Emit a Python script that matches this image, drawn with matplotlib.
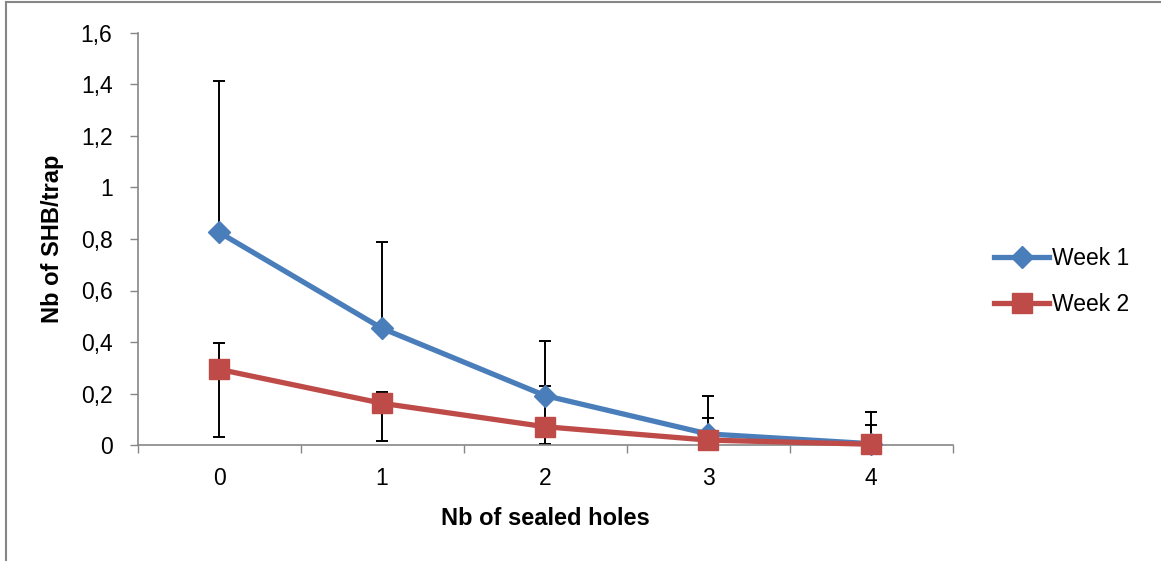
import matplotlib
matplotlib.use("Agg")
import matplotlib.pyplot as plt
from matplotlib.lines import Line2D
from matplotlib.ticker import FuncFormatter, MultipleLocator, FixedLocator

plt.rcParams['font.family'] = ['Liberation Sans', 'DejaVu Sans']

categories = [0, 1, 2, 3, 4]
week1 = [0.826, 0.453, 0.192, 0.043, 0.005]
week2 = [0.294, 0.162, 0.071, 0.019, 0.003]
week1_err_up = [0.588, 0.337, 0.212, 0.149, 0.122]
week2_err_up = [0.102, 0.045, 0.159, 0.087, 0.075]
week2_err_dn = [0.262, 0.145, 0.067, 0.019, 0.003]

fig = plt.figure(figsize=(11.61, 5.61), dpi=100)
ax = fig.add_axes([137.5/1161, 1-445/561, (952.5-137.5)/1161, (445-33)/561])

gray = '#868686'
c1 = '#4A7EBB'
c2 = '#BE4B48'

ax.errorbar(categories, week1, yerr=[[0]*5, week1_err_up], fmt='none',
            ecolor='black', elinewidth=1.4, capsize=4.5, capthick=1.4, zorder=2)
ax.errorbar(categories, week2, yerr=[week2_err_dn, week2_err_up], fmt='none',
            ecolor='black', elinewidth=1.4, capsize=4.5, capthick=1.4, zorder=2)

ax.plot(categories, week1, color=c1, lw=3.8, marker='D', markersize=11,
        markerfacecolor=c1, markeredgecolor=c1, zorder=3, label='Week 1', clip_on=False)
ax.plot(categories, week2, color=c2, lw=3.8, marker='s', markersize=14,
        markerfacecolor=c2, markeredgecolor=c2, zorder=4, label='Week 2', clip_on=False)

ax.set_xlim(-0.5, 4.5)
ax.set_ylim(0, 1.6)
ax.yaxis.set_major_locator(MultipleLocator(0.2))
ax.yaxis.set_major_formatter(FuncFormatter(lambda v, p: ('%g' % round(v, 1)).replace('.', ',')))
ax.set_xticks(categories)
ax.set_xticklabels([str(c) for c in categories])
ax.xaxis.set_minor_locator(FixedLocator([-0.5, 0.5, 1.5, 2.5, 3.5, 4.5]))
ax.tick_params(axis='x', which='major', length=0, labelsize=16.5, pad=16)
ax.tick_params(axis='x', which='minor', length=6, color=gray, width=1, direction='out')
ax.tick_params(axis='y', which='major', length=6, color=gray, width=1, labelsize=16.5, pad=12)

for s in ['top', 'right']:
    ax.spines[s].set_visible(False)
for s in ['left', 'bottom']:
    ax.spines[s].set_color(gray)
    ax.spines[s].set_linewidth(1.2)

ax.set_xlabel('Nb of sealed holes', fontsize=17, fontweight='bold', labelpad=12)
ax.set_ylabel('Nb of SHB/trap', fontsize=17, fontweight='bold', labelpad=12)

leg = ax.legend(loc='center left', bbox_to_anchor=(1.04, 0.396), frameon=False,
                fontsize=16.5, handlelength=2.4, handletextpad=0.1, labelspacing=1.0,
                borderaxespad=0)

# outer border lines (top and left)
fig.add_artist(Line2D([6/1161, 6/1161], [0, 1-2/561], transform=fig.transFigure, color=gray, lw=1.5))
fig.add_artist(Line2D([6/1161, 1], [1-2/561, 1-2/561], transform=fig.transFigure, color=gray, lw=1.5))

fig.savefig('out.png', dpi=100)
